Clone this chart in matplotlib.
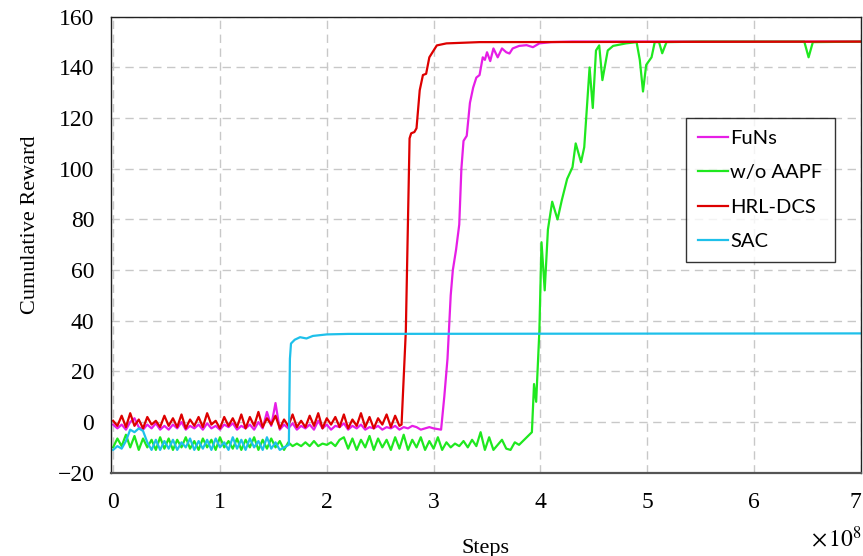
import matplotlib
matplotlib.use('Agg')
import matplotlib.pyplot as plt
import numpy as np

plt.rcParams['font.family'] = ['Liberation Serif', 'DejaVu Serif']
plt.rcParams['mathtext.fontset'] = 'stix'

# steps in units of 1e8; noisy early phase sampled every 0.04
dx = 0.04

# HRL-DCS (red)
red_noise = [0.5, -1.5, 2.5, -2, 3.5, -1.5, 1, -2.5, 2, -1, 0.5, -2, 2.5, -1.5, 1.5, -2,
             3, -2.5, 1, -1.5, 2, -2, 3.5, -1, 0.5, -2.5, 2, -1.5, 1.5, -2, 3, -2.5,
             2, -1.5, 4, -2, 1.5, -1, 2.5, -2.5, 1, -1.5, 3, -2, 0.5, -2, 2.5, -1.5,
             3.5, -2.5, 1.5, -1, 2, -2, 3, -2.5, 1, -1.5, 3.5, -2, 2, -2.5, 1.5, -1,
             3, -2, 2.5, -1.5]
red_rise_x = [2.70, 2.74, 2.775, 2.79, 2.82, 2.84, 2.87, 2.90, 2.93, 2.96, 3.03, 3.12, 3.43, 7.0]
red_rise_y = [-1, 36, 112, 114, 114.5, 116, 131, 137, 137.5, 144, 148.7, 149.5, 150, 150.2]

# FuNs (magenta)
mag_noise = [-1, -2.5, -1, -3, 0, 1.5, -2, -3, -1, -2.5, -0.5, -3, -1.5, -3, -1, -2.5,
             0, -3, -1.5, -2.5, -1, -3, -0.5, -2.5, -1.5, -3, -1, -2, -0.5, -3, -1.5, -2.5,
             -1, -3, 0, -2.5, 4, -1.5, 7.5, -3, -1, -2.5, -0.5, -3, -1.5, -2.5, -1, -3,
             0.5, -2.5, -1, -3, -1.5, -2, -0.5, -3, -1.5, -2.5, -1, -3, -2, -2.5, -1.5, -3,
             -2, -2.5, -1.5, -3, -2, -2.5, -1.5, -2, -3, -2.5, -2, -2.5]
mag_rise_x = [3.07, 3.10, 3.13, 3.16, 3.18, 3.21, 3.24, 3.26, 3.28, 3.31, 3.34, 3.37, 3.40,
              3.43, 3.46, 3.48, 3.50, 3.53, 3.56, 3.60, 3.64, 3.68, 3.71, 3.74, 3.80,
              3.87, 3.93, 3.99, 4.1, 4.3, 7.0]
mag_rise_y = [-3, 10, 25, 50, 60, 68, 78, 100, 111, 113, 126, 132, 136,
              137, 144, 143, 146, 142.5, 147.5, 144, 147.5, 146, 145.5, 147.5, 148.5,
              148.8, 148, 149.5, 150, 150.2, 150.2]

# w/o AAPF (green)
grn_noise = [-10, -6.5, -9.5, -5, -10, -5.5, -11, -6.5, -10, -7, -11, -6, -10.5, -6.5, -11, -7,
             -10, -6, -10.5, -7.5, -11, -6.5, -10, -7, -11, -6, -10, -7.5, -10.5, -6.5, -11, -7,
             -10, -6, -11, -7, -10.5, -6.5, -10, -7.5, -11, -8, -9.5, -8.5, -9.5, -8, -9.5, -7.5,
             -9.5, -8.5, -9, -8, -9.5, -7, -6, -10.5, -6.5, -11, -7, -10, -5.5, -11, -6.5, -10,
             -7, -11, -6, -10.5, -5, -11, -7, -10, -6, -11, -7.5, -10.5, -6, -11, -8, -10,
             -8.5, -9.5, -7.5, -10, -7, -9.5, -4, -11, -6, -11, -9, -7, -10.5, -11, -8, -9]
grn_rise_x = [3.92, 3.94, 3.96, 3.99, 4.01, 4.04, 4.07, 4.11, 4.16, 4.20, 4.25, 4.30, 4.33,
              4.38, 4.41, 4.46, 4.49, 4.52, 4.55, 4.58, 4.63, 4.68, 4.80, 4.90, 4.93, 4.96,
              4.99, 5.04, 5.07, 5.11, 5.14, 5.18, 5.5, 6.47, 6.51, 6.55, 7.0]
grn_rise_y = [-4, 15, 8, 36, 71, 52, 76, 87, 80, 87.6, 96, 100.6, 110,
              102.6, 108.5, 140, 124, 146.7, 148.7, 135, 146.7, 148.5, 149.5, 150, 143, 130.5,
              141, 144, 150, 150, 145.6, 150, 150.2, 150.2, 144, 150, 150.2]

# SAC (cyan)
cyn_noise = [-11, -9.5, -10.5, -7.5, -3, -4, -2.5, -3.5, -8, -11, -7, -11, -7.5, -10.5, -7, -11,
             -8, -10, -6.5, -11, -7.5, -10.5, -7, -11, -6.5, -10, -8, -11, -6, -10.5, -7, -11,
             -6.5, -10, -7.5, -11, -6, -10.5, -8, -11, -10]
cyn_rise_x = [1.645, 1.655, 1.665, 1.70, 1.75, 1.81, 1.87, 2.0, 2.2, 7.0]
cyn_rise_y = [-9, 25, 31, 32.5, 33.5, 33, 34, 34.6, 34.8, 35]

labels = ['FuNs', 'w/o AAPF', 'HRL-DCS', 'SAC']
colors = ['#e61ee6', '#1fe81f', '#dd0000', '#1ec0ea']


def series(noise, rx, ry):
    x = np.concatenate([np.arange(len(noise)) * dx, rx])
    y = np.concatenate([noise, ry])
    return x, y


data = [series(mag_noise, mag_rise_x, mag_rise_y),
        series(grn_noise, grn_rise_x, grn_rise_y),
        series(red_noise, red_rise_x, red_rise_y),
        series(cyn_noise, cyn_rise_x, cyn_rise_y)]

fig = plt.figure(figsize=(8.63, 5.56), dpi=100)
ax = fig.add_axes([0.1286, 0.1498, 0.869, 0.820])

for (x, y), lab, c in zip(data, labels, colors):
    ax.plot(x, y, color=c, lw=1.6, label=lab, solid_joinstyle='round')

ax.set_xlim(-0.02, 7.0)
ax.set_ylim(-20, 160)
ax.set_xticks(range(0, 8))
ax.set_yticks(range(-20, 161, 20))
ax.grid(True, color='#c8c8c8', ls=(0, (6, 4)), lw=1.0)
ax.tick_params(length=0, labelsize=17)
ax.tick_params(axis='x', pad=14)
ax.tick_params(axis='y', pad=12)
ax.get_xticklabels()[-1].set_ha('right')
for s in ax.spines.values():
    s.set_color('#222222')
    s.set_linewidth(1.0)
ax.spines['bottom'].set_color('#555555')
ax.spines['bottom'].set_linewidth(1.6)

ax.set_ylabel('Cumulative Reward', fontsize=16)
ax.yaxis.set_label_coords(-0.095, 0.543)
fig.text(0.563, 0.006, 'Steps', fontsize=16, ha='center')
fig.text(0.999, 0.016, r'$\times\,10^{8}$', fontsize=17, ha='right')

leg = ax.legend(loc='upper left', bbox_to_anchor=(0.767, 0.778), frameon=True,
                fancybox=False, edgecolor='black', handlelength=1.5, handletextpad=0.1,
                labelspacing=0.85, borderpad=0.6, borderaxespad=0,
                prop={'family': 'Lato', 'size': 14.5})
leg.get_frame().set_linewidth(1.0)

fig.savefig('out.png', dpi=100)
